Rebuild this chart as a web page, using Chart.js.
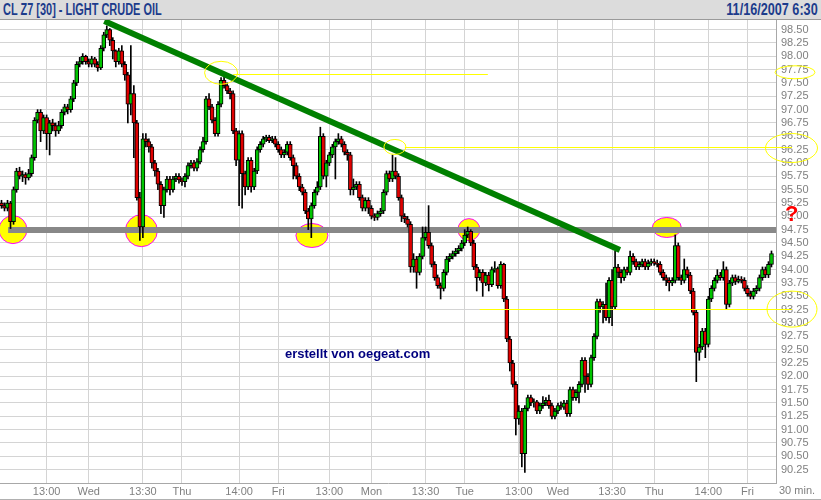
<!DOCTYPE html>
<html>
<head>
<meta charset="utf-8">
<script src="https://cdn.jsdelivr.net/npm/chart.js@4.4.0/dist/chart.umd.min.js"></script>
<style>
html, body { margin: 0; padding: 0; background: #fff; }
#wrap { position: relative; width: 821px; height: 500px; overflow: hidden; }
#titlebar { position: absolute; left: 0; top: 0; width: 821px; height: 20px; background: #dcdcdc; border-bottom: 1px solid #9a9a9a; box-sizing: border-box; font-family: "Liberation Sans", Arial, sans-serif; font-weight: bold; font-size: 16px; color: #1c3c8c; line-height: 19px; }
#titlebar .l { position: absolute; left: 3px; top: 0; transform: scaleX(0.685); transform-origin: left center; white-space: nowrap; }
#titlebar .r { position: absolute; right: 3px; top: 0; transform: scaleX(0.79); transform-origin: right center; white-space: nowrap; }
#chartbox { position: absolute; left: 0; top: 20px; width: 821px; height: 480px; }
#bottomline { position: absolute; left: 0; top: 499px; width: 821px; height: 1px; background: #b0b0b0; }
.note { position: absolute; white-space: nowrap; }
#mark { left: 285px; top: 346px; font: bold 13px "Liberation Sans", Arial, sans-serif; color: #00007f; }
#quest { left: 785px; top: 204px; font: bold 22px "Liberation Sans", Arial, sans-serif; color: #ff0000; line-height: 20px; }
#interval { left: 779px; top: 484px; font: 11px "Liberation Sans", Arial, sans-serif; color: #808080; line-height: 13px; }
</style>
</head>
<body>
<div id="wrap">
  <div id="titlebar"><span class="l">CL Z7 [30] - LIGHT CRUDE OIL</span><span class="r">11/16/2007 6:30</span></div>
  <div id="chartbox"><canvas id="oil-chart" width="821" height="480"></canvas></div>
  <div id="bottomline"></div>
  <div class="note" id="mark">erstellt von oegeat.com</div>
  <div class="note" id="quest">?</div>
  <div class="note" id="interval">30 min.</div>
</div>
<script>
// 30 minute bars, each bar opens at the previous close
const firstOpen = 95.25;

const closes = [
  95.20, 95.15, 95.25, 94.90, 95.50, 95.85, 95.75, 95.78, 95.72, 95.80,
  96.10, 96.80, 96.95, 96.60, 96.85, 96.55, 96.75, 96.70, 96.60, 96.70,
  96.95, 97.05, 97.00, 97.20, 97.50, 97.85, 97.90, 98.00, 97.90, 97.85,
  97.95, 97.85, 97.78, 98.15, 98.40, 98.50, 98.30, 98.10, 97.90, 98.10,
  97.85, 97.65, 97.10, 97.30, 96.75, 95.35, 94.80, 96.45, 96.40, 96.30,
  96.00, 95.85, 95.60, 95.20, 95.50, 95.70, 95.50, 95.70, 95.75, 95.68,
  95.65, 95.75, 95.95, 96.00, 95.90, 96.02, 96.25, 96.40, 97.20, 97.05,
  96.80, 96.55, 97.10, 97.55, 97.45, 97.35, 97.30, 96.60, 96.05, 96.55,
  95.80, 95.55, 96.05, 95.55, 95.85, 96.25, 96.35, 96.45, 96.48, 96.42,
  96.45, 96.35, 96.25, 96.15, 96.20, 96.35, 96.10, 95.95, 95.75, 95.55,
  95.45, 95.10, 94.95, 95.20, 95.45, 95.55, 96.50, 95.75, 96.00, 96.15,
  96.30, 96.40, 96.45, 96.35, 96.20, 96.15, 95.50, 95.55, 95.60, 95.35,
  95.15, 95.30, 95.15, 95.00, 94.98, 95.05, 95.10, 95.45, 95.80, 95.70,
  95.85, 95.75, 95.35, 95.00, 94.95, 94.85, 94.05, 94.20, 93.95, 94.25,
  94.60, 94.70, 94.45, 94.10, 93.85, 93.70, 93.65, 93.95, 94.20, 94.25,
  94.30, 94.35, 94.40, 94.50, 94.65, 94.72, 94.50, 94.05, 93.85, 93.95,
  93.75, 93.90, 93.72, 94.00, 94.02, 93.70, 94.10, 93.45, 92.70, 92.25,
  91.85, 91.20, 91.35, 90.55, 91.40, 91.60, 91.50, 91.52, 91.35, 91.45,
  91.50, 91.55, 91.45, 91.25, 91.35, 91.45, 91.42, 91.50, 91.30, 91.75,
  91.60, 91.70, 91.85, 92.30, 92.00, 91.85, 92.35, 92.75, 93.40, 93.30,
  93.35, 93.10, 93.80, 93.30, 94.05, 93.95, 93.85, 94.00, 93.95, 94.25,
  94.15, 94.05, 94.10, 94.15, 94.05, 94.12, 94.15, 94.12, 94.10, 93.95,
  93.85, 93.80, 93.75, 93.80, 94.45, 93.85, 93.80, 94.00, 93.90, 93.60,
  93.20, 92.45, 92.55, 92.85, 92.60, 93.45, 93.65, 93.80, 93.90, 93.85,
  94.00, 93.35, 93.75, 93.85, 93.78, 93.82, 93.80, 93.65, 93.55, 93.50,
  93.60, 93.65, 93.85, 94.00, 93.90, 94.10, 94.30
];

const highs = [
  95.30, 95.25, 95.30, 95.28, 95.55, 95.90, 95.92, 95.85, 95.82, 95.88,
  96.15, 96.85, 97.00, 97.00, 96.90, 96.90, 96.80, 96.82, 96.75, 96.78,
  97.00, 97.10, 97.10, 97.25, 97.55, 97.90, 97.98, 98.05, 98.02, 97.95,
  98.00, 97.98, 97.90, 98.20, 98.45, 98.57, 98.52, 98.35, 98.12, 98.15,
  98.20, 97.90, 97.70, 98.20, 97.45, 96.80, 95.45, 96.55, 96.55, 96.45,
  96.35, 96.05, 95.90, 95.65, 95.55, 95.75, 95.75, 95.75, 95.80, 95.80,
  95.72, 95.80, 96.00, 96.05, 96.05, 96.08, 96.30, 96.48, 97.25, 97.30,
  97.10, 96.85, 97.15, 97.60, 97.70, 97.50, 97.40, 97.35, 96.65, 96.60,
  96.60, 95.85, 96.10, 96.10, 95.90, 96.30, 96.40, 96.50, 96.52, 96.52,
  96.50, 96.50, 96.40, 96.30, 96.25, 96.40, 96.40, 96.15, 96.00, 95.80,
  95.60, 95.50, 95.15, 95.25, 95.50, 95.65, 96.67, 96.55, 96.05, 96.20,
  96.35, 96.45, 96.55, 96.50, 96.40, 96.25, 96.20, 95.70, 95.65, 95.65,
  95.40, 95.35, 95.35, 95.20, 95.05, 95.10, 95.15, 95.50, 95.85, 95.85,
  96.15, 96.10, 95.80, 95.40, 95.05, 95.00, 94.90, 94.30, 94.25, 94.30,
  94.80, 94.80, 95.20, 94.50, 94.15, 93.90, 93.75, 94.00, 94.25, 94.30,
  94.35, 94.40, 94.45, 94.55, 94.75, 94.80, 94.75, 94.55, 94.10, 94.00,
  94.00, 93.95, 93.95, 94.05, 94.15, 94.05, 94.15, 94.12, 93.50, 92.75,
  92.30, 91.90, 91.45, 91.40, 91.45, 91.65, 91.65, 91.58, 91.55, 91.50,
  91.62, 91.60, 91.65, 91.50, 91.40, 91.50, 91.52, 91.55, 91.55, 91.80,
  91.80, 91.75, 91.90, 92.35, 92.35, 92.05, 92.40, 92.80, 93.45, 93.45,
  93.40, 93.75, 93.85, 94.00, 94.35, 94.10, 94.00, 94.05, 94.05, 94.35,
  94.30, 94.20, 94.15, 94.20, 94.20, 94.18, 94.20, 94.20, 94.18, 94.15,
  94.00, 93.90, 93.85, 93.85, 94.65, 94.50, 93.90, 94.20, 94.05, 93.95,
  93.65, 93.25, 92.60, 92.90, 92.90, 93.50, 93.70, 93.85, 94.00, 93.95,
  94.15, 94.05, 93.80, 93.90, 93.90, 93.88, 93.87, 93.85, 93.70, 93.60,
  93.65, 93.70, 93.90, 94.05, 94.05, 94.15, 94.35
];

const lows = [
  95.15, 95.10, 95.10, 94.77, 94.85, 95.45, 95.70, 95.65, 95.60, 95.68,
  95.75, 96.05, 96.75, 96.40, 96.55, 96.25, 96.15, 96.60, 96.50, 96.55,
  96.65, 96.90, 96.92, 96.95, 97.15, 97.45, 97.80, 97.85, 97.85, 97.80,
  97.80, 97.80, 97.72, 97.75, 98.10, 98.35, 98.20, 97.95, 97.80, 97.85,
  97.80, 97.55, 96.75, 96.90, 96.10, 95.30, 94.55, 94.60, 96.30, 96.20,
  95.90, 95.75, 95.50, 95.05, 94.98, 95.45, 95.40, 95.45, 95.65, 95.62,
  95.58, 95.55, 95.70, 95.90, 95.85, 95.85, 95.98, 96.20, 96.35, 97.00,
  96.75, 96.50, 96.50, 97.05, 97.40, 97.30, 97.20, 96.55, 95.95, 95.20,
  95.15, 95.40, 95.50, 95.45, 95.50, 95.80, 96.20, 96.30, 96.40, 96.38,
  96.38, 96.30, 96.20, 96.10, 96.10, 96.15, 96.05, 95.70, 95.70, 95.48,
  95.40, 95.05, 94.75, 94.60, 95.15, 95.40, 95.50, 95.70, 95.55, 95.95,
  96.10, 95.70, 96.35, 96.30, 96.15, 96.05, 95.40, 95.40, 95.50, 95.30,
  95.10, 95.10, 95.05, 94.95, 94.92, 94.93, 95.00, 95.05, 95.40, 95.65,
  95.65, 95.70, 95.30, 94.90, 94.88, 94.80, 93.95, 93.95, 93.65, 93.90,
  94.20, 94.55, 94.40, 94.05, 93.80, 93.65, 93.45, 93.60, 93.90, 94.15,
  94.20, 94.25, 94.30, 94.35, 94.45, 94.60, 94.45, 94.00, 93.60, 93.80,
  93.50, 93.70, 93.60, 93.68, 93.95, 93.65, 93.65, 93.40, 92.65, 92.10,
  91.80, 90.90, 91.10, 90.30, 90.20, 91.35, 91.45, 91.42, 91.30, 91.30,
  91.40, 91.45, 91.40, 91.20, 91.20, 91.30, 91.38, 91.38, 91.25, 91.25,
  91.55, 91.55, 91.50, 91.80, 91.70, 91.75, 91.80, 92.30, 92.70, 93.20,
  93.00, 93.05, 93.00, 92.95, 93.25, 93.85, 93.75, 93.80, 93.90, 93.90,
  94.10, 94.00, 94.00, 94.05, 94.00, 94.00, 94.08, 94.08, 94.05, 93.90,
  93.80, 93.70, 93.60, 93.70, 93.75, 93.80, 93.72, 93.75, 93.85, 93.55,
  93.15, 91.90, 92.30, 92.50, 92.35, 92.55, 93.40, 93.60, 93.75, 93.80,
  93.80, 93.25, 93.30, 93.70, 93.72, 93.75, 93.75, 93.60, 93.50, 93.45,
  93.45, 93.55, 93.60, 93.80, 93.85, 93.85, 94.05
];

// bottom axis: bar index of each labelled grid line
const xTickIdx = [15, 29, 47, 60, 79, 92, 109, 123, 141, 154, 172, 185, 203, 217, 235, 248];
const xTickText = ['13:00', 'Wed', '13:30', 'Thu', '14:00', 'Fri', '13:00', 'Mon', '13:30', 'Tue', '13:00', 'Wed', '13:30', 'Thu', '14:00', 'Fri'];

const yTicks = [
  90.25, 90.50, 90.75, 91.00, 91.25, 91.50, 91.75, 92.00, 92.25, 92.50, 92.75,
  93.00, 93.25, 93.50, 93.75, 94.00, 94.25, 94.50, 94.75, 95.00, 95.25, 95.50,
  95.75, 96.00, 96.25, 96.50, 96.75, 97.00, 97.25, 97.50, 97.75, 98.00, 98.25, 98.50
];

const opens = [firstOpen, ...closes.slice(0, -1)];
const labels = closes.map((_, i) => i).concat([closes.length]); // one empty slot at the right edge
const bodies = closes.map((c, i) => [opens[i], c]);
const wicks = closes.map((c, i) => [lows[i], highs[i]]);
const bodyColors = closes.map((c, i) => c >= opens[i] ? '#00c400' : '#e00000');

// drawings on the chart (trend line, support line, marks)
const supportLevel = 94.75;
const trendLine = { from: [34.2, 98.66], to: [205.6, 94.37] };
const touchCircles = [
  { i: 3.8, p: 94.75, rx: 14, ry: 14 },
  { i: 46.5, p: 94.73, rx: 16, ry: 16 },
  { i: 103.2, p: 94.64, rx: 16, ry: 12 },
  { i: 155.4, p: 94.75, rx: 11, ry: 11 },
  { i: 221.2, p: 94.79, rx: 14.5, ry: 10 }
];
const yellowLines = [
  { i: 77, p: 97.66, endI: 161.7 },
  { i: 134.1, p: 96.29, endPx: 792 },
  { i: 159, p: 93.26, endPx: 792 }
];
const yellowRings = [
  { i: 73, p: 97.69, rx: 16.5, ry: 11.5 },
  { i: 130.8, p: 96.30, rx: 11, ry: 7.5 },
  { px: 795, p: 97.70, rx: 20, ry: 6.5 },
  { px: 791.5, p: 96.28, rx: 26, ry: 14.5 },
  { px: 792, p: 93.26, rx: 25, ry: 18 }
];

const underlay = {
    id: 'underlay',
    beforeDatasetsDraw(chart) {
        const { ctx, scales: { x, y }, chartArea } = chart;
        ctx.save();
        touchCircles.forEach(c => {
            ctx.beginPath();
            ctx.ellipse(x.getPixelForValue(c.i), y.getPixelForValue(c.p), c.rx, c.ry, 0, 0, Math.PI * 2);
            ctx.fillStyle = '#ffff00';
            ctx.fill();
            ctx.strokeStyle = '#ff00ff';
            ctx.lineWidth = 1;
            ctx.stroke();
        });
        ctx.fillStyle = '#888888';
        const yy = Math.round(y.getPixelForValue(supportLevel));
        const x0 = x.getPixelForValue(2.2);
        ctx.fillRect(x0, yy - 3, chartArea.right - x0, 6);
        ctx.restore();
    }
};

const overlay = {
    id: 'overlay',
    afterDatasetsDraw(chart) {
        const { ctx, scales: { x, y } } = chart;
        ctx.save();
        ctx.strokeStyle = '#008000';
        ctx.lineWidth = 6;
        ctx.beginPath();
        ctx.moveTo(x.getPixelForValue(trendLine.from[0]), y.getPixelForValue(trendLine.from[1]));
        ctx.lineTo(x.getPixelForValue(trendLine.to[0]), y.getPixelForValue(trendLine.to[1]));
        ctx.stroke();

        ctx.fillStyle = '#ffff00';
        yellowLines.forEach(l => {
            const yy = Math.round(y.getPixelForValue(l.p));
            const x1 = x.getPixelForValue(l.i);
            const x2 = l.endPx !== undefined ? l.endPx : x.getPixelForValue(l.endI);
            ctx.fillRect(x1, yy, x2 - x1, 1);
        });
        ctx.strokeStyle = '#ffff00';
        ctx.lineWidth = 1;
        yellowRings.forEach(r => {
            const cx = r.px !== undefined ? r.px : x.getPixelForValue(r.i);
            ctx.beginPath();
            ctx.ellipse(cx, y.getPixelForValue(r.p), r.rx, r.ry, 0, 0, Math.PI * 2);
            ctx.stroke();
        });
        ctx.restore();
    }
};

const ctx = document.getElementById('oil-chart').getContext('2d');
new Chart(ctx, {
    type: 'bar',
    data: {
        labels: labels,
        datasets: [
            {
                data: bodies,
                backgroundColor: bodyColors,
                borderColor: '#000000',
                borderWidth: 1,
                borderSkipped: false,
                barThickness: 4,
                grouped: false,
                order: 0
            },
            {
                data: wicks,
                backgroundColor: '#000000',
                borderWidth: 0,
                barThickness: 1,
                grouped: false,
                order: 1
            }
        ]
    },
    options: {
        responsive: false,
        maintainAspectRatio: false,
        animation: false,
        layout: { padding: 0 },
        plugins: {
            legend: { display: false },
            tooltip: { enabled: false }
        },
        scales: {
            x: {
                grid: {
                    offset: false,
                    drawTicks: false,
                    color: c => xTickIdx.includes(c.index) ? '#d4d4d4' : 'rgba(0,0,0,0)'
                },
                border: { color: '#a8a8a8' },
                ticks: {
                    autoSkip: false,
                    maxRotation: 0,
                    minRotation: 0,
                    padding: 2,
                    color: '#808080',
                    font: { family: 'Liberation Sans', size: 11 },
                    callback: (v, i) => {
                        const k = xTickIdx.indexOf(i);
                        return k >= 0 ? xTickText[k] : '';
                    }
                },
                afterFit: s => { s.height = 17; s.paddingLeft = 0; s.paddingRight = 0; }
            },
            y: {
                position: 'right',
                min: 90,
                max: 98.68,
                afterBuildTicks: s => { s.ticks = yTicks.map(v => ({ value: v })); },
                grid: { color: '#d4d4d4', drawTicks: false },
                border: { color: '#a8a8a8' },
                ticks: {
                    autoSkip: false,
                    padding: 5,
                    color: '#808080',
                    font: { family: 'Liberation Sans', size: 11 },
                    callback: v => v.toFixed(2)
                },
                afterFit: s => { s.width = 45; s.paddingTop = 0; s.paddingBottom = 0; }
            }
        }
    },
    plugins: [underlay, overlay]
});
</script>
</body>
</html>
